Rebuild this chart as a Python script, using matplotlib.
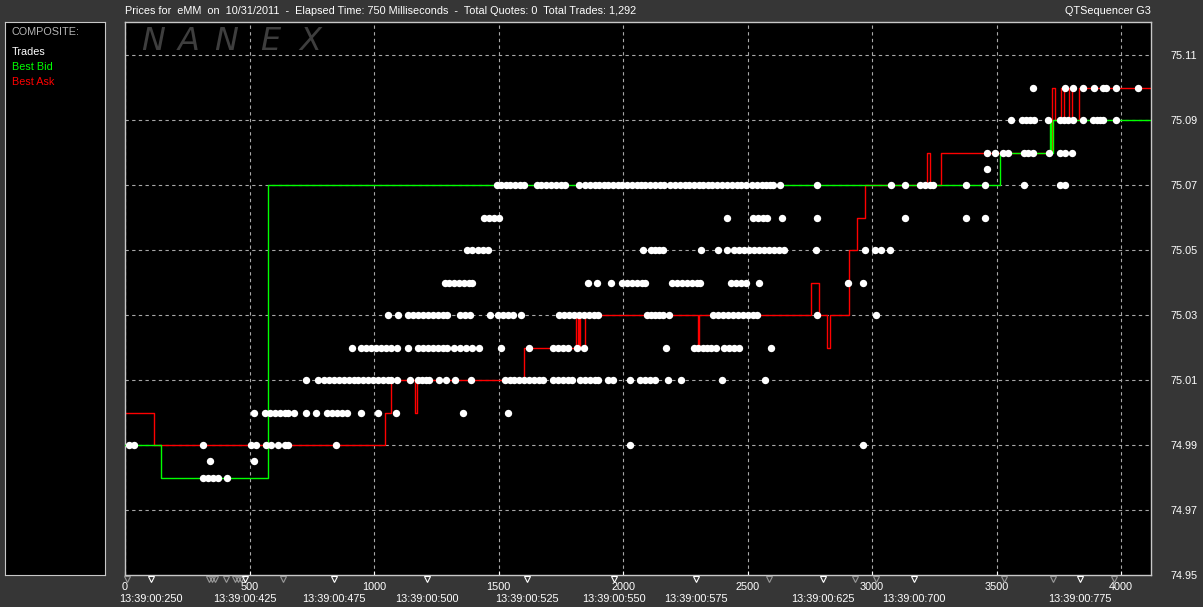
import matplotlib
matplotlib.use("Agg")
import matplotlib.pyplot as plt

# --- data (x = elapsed units on the axis, y = price) ---
bid_x = [0, 144, 573, 3513, 3714, 3720, 3728, 4120]
bid_y = [74.99, 74.98, 75.07, 75.08, 75.09, 75.08, 75.09, 75.09]

ask_x = [0, 116, 1043, 1069, 1163, 1171, 1604, 1813, 1818, 1823, 1829, 1849,
         2300, 2306, 2755, 2787, 2820, 2832, 2907, 2939, 2973, 3221, 3233, 3277,
         3721, 3735, 3760, 3770, 3790, 3803, 3831, 4120]
ask_y = [75.00, 74.99, 75.00, 75.01, 75.00, 75.01, 75.02, 75.03, 75.02, 75.03, 75.02, 75.03,
         75.02, 75.03, 75.04, 75.03, 75.02, 75.03, 75.05, 75.06, 75.07, 75.08, 75.07, 75.08,
         75.10, 75.09, 75.10, 75.09, 75.10, 75.09, 75.10, 75.10]

trades_7510 = [3645, 3773, 3805, 3846, 3890, 3926, 3938, 3978, 4066]
trades_7509 = [3557, 3601, 3617, 3633, 3649, 3705, 3753, 3769, 3785, 3805, 3846,
               3886, 3902, 3914, 3926, 3978]
trades_7508 = [3461, 3493, 3525, 3545, 3609, 3625, 3645, 3709, 3753, 3773, 3801]
trades_75075 = [3461]
trades_7507 = [1492, 1508, 1528, 1548, 1568, 1588, 1604,
               1656, 1672, 1692, 1712, 1732, 1752, 1768,
               1825, 1846, 1866, 1886, 1902, 1922, 1938, 1958, 1978, 1994, 2014, 2034,
               2054, 2074, 2090, 2110, 2130, 2150, 2166, 2187, 2207, 2227, 2247, 2263,
               2283, 2303, 2323, 2343, 2359, 2379, 2399, 2419, 2439, 2459, 2475, 2495,
               2516, 2536, 2556, 2572, 2592, 2604,
               2631, 2779, 3076, 3132, 3192, 3212, 3232, 3244, 3376, 3453, 3609, 3753, 3773]
trades_7506 = [1440, 1460, 1480, 1500, 2418, 2522, 2542, 2562, 2578, 2639, 2779,
               3132, 3376, 3453]
trades_7505 = [1375, 1395, 1416, 1436, 1456, 2081, 2113, 2129, 2145, 2161, 2314, 2382,
               2418, 2446, 2466, 2486, 2506, 2526, 2546, 2566, 2586, 2606, 2626, 2647,
               2775, 2971, 3012, 3036, 3072]
trades_7504 = [1283, 1303, 1323, 1343, 1363, 1383, 1395, 1861, 1897, 1953,
               1997, 2017, 2037, 2057, 2077, 2089, 2197, 2218, 2238, 2258, 2278, 2298,
               2310, 2434, 2454, 2474, 2494, 2546, 2903, 2963]
trades_7503 = [1055, 1095, 1135, 1155, 1175, 1195, 1215, 1235, 1255, 1275, 1295,
               1347, 1367, 1387, 1464, 1496, 1516, 1536, 1560, 1592,
               1744, 1764, 1784, 1804, 1825, 1845, 1865, 1885, 1901,
               2097, 2113, 2129, 2145, 2161, 2185, 2362, 2382, 2402, 2422, 2442,
               2462, 2482, 2502, 2522, 2538, 2779, 3016]
trades_7502 = [910, 946, 966, 986, 1006, 1027, 1047, 1067, 1091, 1135, 1175, 1195,
               1215, 1235, 1255, 1275, 1295, 1323, 1347, 1371, 1395, 1420, 1508,
               1624, 1720, 1740, 1760, 1780, 1817, 1845, 2173, 2286, 2302, 2322,
               2338, 2354, 2374, 2406, 2426, 2446, 2466, 2594]
trades_7501 = [726, 774, 798, 818, 838, 858, 878, 898, 918, 934, 954, 974, 994, 1015,
               1035, 1055, 1067, 1091, 1143, 1175, 1191, 1207, 1219, 1259, 1287, 1327,
               1391, 1524, 1544, 1564, 1584, 1604, 1624, 1644, 1664, 1680, 1720, 1740,
               1760, 1780, 1796, 1829, 1849, 1869, 1889, 1901, 1941, 1961, 2029, 2069,
               2089, 2109, 2129, 2181, 2234, 2398, 2570]
trades_7500 = [517, 561, 581, 602, 622, 642, 654, 678, 726, 766, 810, 830, 850, 870,
               890, 946, 1015, 1087, 1359, 1536]
trades_7499 = [16, 36, 313, 505, 525, 565, 585, 614, 642, 654, 846, 2029, 2963]
trades_74985 = [341, 517]
trades_7498 = [313, 333, 353, 373, 409]

trade_levels = [
    (75.10, trades_7510), (75.09, trades_7509), (75.08, trades_7508),
    (75.075, trades_75075), (75.07, trades_7507), (75.06, trades_7506),
    (75.05, trades_7505), (75.04, trades_7504), (75.03, trades_7503),
    (75.02, trades_7502), (75.01, trades_7501), (75.00, trades_7500),
    (74.99, trades_7499), (74.985, trades_74985), (74.98, trades_7498),
]

# bottom time markers (white = labelled)
marker_x = [8, 104, 337, 349, 361, 405, 441, 453, 465, 481, 634, 838, 1211, 1616,
            1965, 2294, 2586, 2803, 2931, 3016, 3168, 3529, 3725, 3834, 3970]
marker_lab = [104, 481, 838, 1211, 1616, 1965, 2294, 2803, 3168, 3834]
time_labels = ["13:39:00:250", "13:39:00:425", "13:39:00:475", "13:39:00:500",
               "13:39:00:525", "13:39:00:550", "13:39:00:575", "13:39:00:625",
               "13:39:00:700", "13:39:00:775"]

x_ticks = [0, 500, 1000, 1500, 2000, 2500, 3000, 3500, 4000]
y_ticks = [74.95, 74.97, 74.99, 75.01, 75.03, 75.05, 75.07, 75.09, 75.11]

title_txt = ("Prices for  eMM  on  10/31/2011  -  Elapsed Time: 750 Milliseconds  -  "
             "Total Quotes: 0  Total Trades: 1,292")

BG = "#363636"
EDGE = "#c8c8c8"
GRID = "#a8a8a8"
FS = 7.8
plt.rcParams['font.family'] = ['Liberation Sans', 'DejaVu Sans']

W, H = 1203, 607
fig = plt.figure(figsize=(W / 100, H / 100), dpi=100, facecolor=BG)

def box(l, t, r, b):
    return [l / W, 1 - b / H, (r - l) / W, (b - t) / H]

ax = fig.add_axes(box(125, 22, 1151, 575), facecolor="black")
ax.set_xlim(4, 4120)
ax.set_ylim(74.95, 75.1202)
ax.set_axisbelow(True)

for s in ax.spines.values():
    s.set_color(EDGE)
    s.set_linewidth(1)

ax.set_xticks(x_ticks)
ax.set_xticklabels([str(v) for v in x_ticks])
ax.tick_params(axis="x", colors="white", direction="in", length=3, labelsize=FS, pad=5)
ax.yaxis.tick_right()
ax.set_yticks(y_ticks)
ax.set_yticklabels([f"{v:.2f}" for v in y_ticks])
ax.tick_params(axis="y", colors="white", length=0, labelsize=FS, pad=14)
ax.grid(True, color=GRID, linestyle=(0, (3, 3)), linewidth=0.8)
for gl in ax.get_ygridlines()[:1]:
    gl.set_visible(False)

# watermark
for ch, px in zip("NANEX", [153, 189, 226, 270, 310]):
    ax.text(px / W, 1 - 42 / H, ch, transform=fig.transFigure, fontsize=23,
            style="italic", color="#3e3e3e", ha="center", va="center",
            family="DejaVu Sans", zorder=0.2)

ax.step(ask_x, ask_y, where="post", color="#ff0000", lw=1.0, zorder=2)
ax.step(bid_x, bid_y, where="post", color="#00ff00", lw=1.0, zorder=3)

for price, xs in trade_levels:
    ax.plot(xs, [price] * len(xs), "o", color="white", ms=5.3, mew=0, zorder=4)

# time markers under the axis
trans = ax.get_xaxis_transform()
for mx in marker_x:
    c = "white" if mx in marker_lab else "#9a9a9a"
    ax.plot([mx], [-0.008], marker="v", ms=5, mfc="none", mec=c, mew=0.8,
            transform=trans, clip_on=False, zorder=5)
for mx, lab in zip(marker_lab, time_labels):
    ax.annotate(lab, xy=(mx, 0), xycoords=trans, xytext=(0, -24),
                textcoords="offset pixels", ha="center", va="center",
                color="white", fontsize=FS, annotation_clip=False)

# header texts
fig.text(125 / W, 1 - 11 / H, title_txt, color="white", fontsize=FS,
         ha="left", va="center")
fig.text(1151 / W, 1 - 11 / H, "QTSequencer G3", color="white", fontsize=FS,
         ha="right", va="center")

# left legend panel
lg = fig.add_axes(box(5, 22, 105, 575), facecolor="black")
lg.set_xticks([])
lg.set_yticks([])
for s in lg.spines.values():
    s.set_color(EDGE)
for txt, col, py in [("COMPOSITE:", "#b4b4b4", 32), ("Trades", "white", 52),
                     ("Best Bid", "#00ff00", 67), ("Best Ask", "#ff0000", 82)]:
    fig.text(12 / W, 1 - py / H, txt, color=col, fontsize=FS, ha="left", va="center")

fig.savefig("out.png", dpi=100, facecolor=BG)
